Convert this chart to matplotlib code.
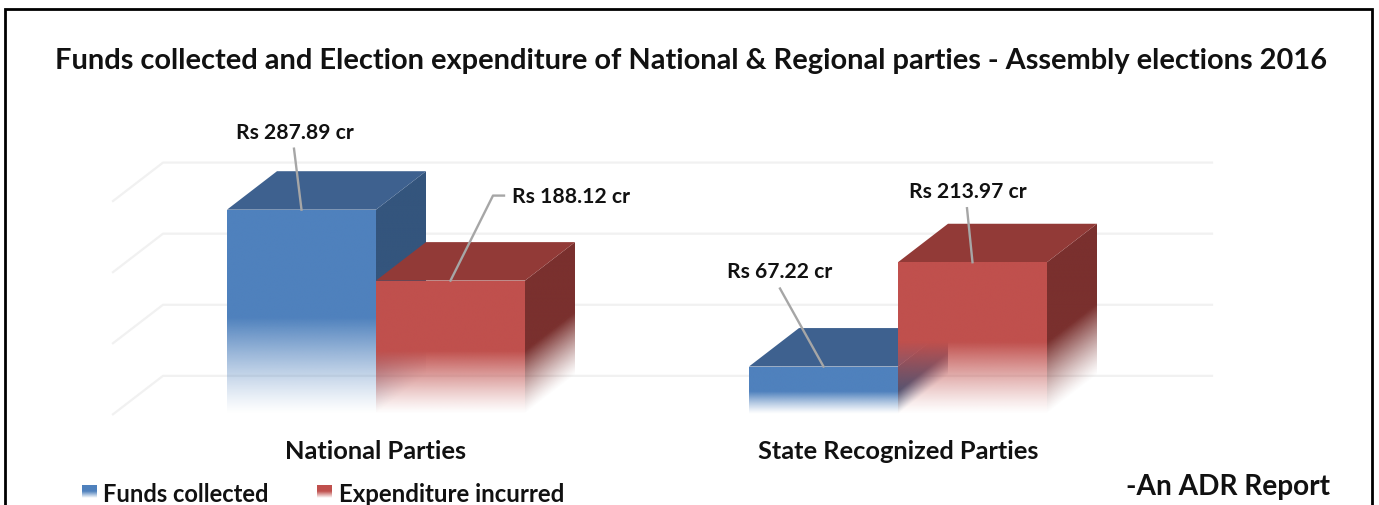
# Grafico de barras "3D" con degradado: fondos y gastos de los partidos
import numpy as np
import matplotlib
matplotlib.use("Agg")
import matplotlib.pyplot as plt
from matplotlib.lines import Line2D
from matplotlib.patches import Polygon
from matplotlib.transforms import Affine2D

# Datos
categorias = ["National Parties", "State Recognized Parties"]
fondos = [287.89, 67.22]
gastos = [188.12, 213.97]
etiquetas_fondos = ["Rs 287.89 cr", "Rs 67.22 cr"]
etiquetas_gastos = ["Rs 188.12 cr", "Rs 213.97 cr"]
rejilla = [0, 100, 200, 300]
series = ["Funds collected", "Expenditure incurred"]

# Tamano de la figura en pixeles
W, H = 1379, 506
plt.rcParams["font.family"] = ["Lato", "DejaVu Sans"]
plt.rcParams["font.weight"] = "bold"

# Escala: 1 categoria = 522 px, 100 unidades = 71.15 px
px_x = 522.0
px_y = 0.7115
ancho = 149 / px_x
fondo_x = 50 / px_x
fondo_y = 38.5 / px_y
x_izq, x_der = (113 - 376) / px_x, (1212 - 376) / px_x
y_sup = 300 + fondo_y

fig = plt.figure(figsize=(W / 100, H / 100), dpi=100)
fig.patch.set_facecolor("white")
ax = fig.add_axes([113 / W, 1 - 415.3 / H, (1212 - 113) / W, (415.3 - 163.6) / H])
ax.set_xlim(x_izq, x_der)
ax.set_ylim(0, y_sup)
for s in ax.spines.values():
    s.set_visible(False)
ax.set_yticks([])
ax.set_xticks([0, 1])
ax.set_xticklabels(categorias, fontsize=18.3, color="#111111", fontweight="bold")
ax.tick_params(axis="x", length=0, pad=18)
ax.patch.set_alpha(0)

# Rejilla de fondo
for g in rejilla:
    ax.plot([x_izq, x_izq + fondo_x, x_der], [g, g + fondo_y, g + fondo_y],
            color="#f1f1f1", lw=1.6, zorder=1, clip_on=False)


def alfa(altura, valor):
    # Opaco arriba, se desvanece hacia la base desde el 47% de la altura
    return np.clip(altura / (0.47 * valor), 0, 1) ** 1.2


def cara_degradada(xs, ys, color, valor, fondo_frac, z):
    # Dibuja un poligono con degradado de transparencia recortado a su forma
    x0, x1, y0, y1 = min(xs), max(xs), min(ys), max(ys)
    gx, gy = np.meshgrid(np.linspace(x0, x1, 240), np.linspace(y1, y0, 500))
    base = (gx - x0) / fondo_x * fondo_y if fondo_frac else 0 * gx
    rgba = np.zeros(gx.shape + (4,))
    rgba[..., :3] = matplotlib.colors.to_rgb(color)
    rgba[..., 3] = alfa(gy - base, valor)
    im = ax.imshow(rgba, extent=(x0, x1, y0, y1), aspect="auto", zorder=z,
                   interpolation="bilinear")
    poli = Polygon(np.column_stack([xs, ys]), transform=ax.transData)
    im.set_clip_path(poli)


def barra(x0, valor, frente, arriba, lado, z):
    x1 = x0 + ancho
    cara_degradada([x1, x1 + fondo_x, x1 + fondo_x, x1],
                   [0, fondo_y, valor + fondo_y, valor], lado, valor, True, z)
    ax.add_patch(Polygon([[x0, valor], [x1, valor], [x1 + fondo_x, valor + fondo_y],
                          [x0 + fondo_x, valor + fondo_y]],
                         facecolor=arriba, edgecolor="none", zorder=z + 0.1))
    cara_degradada([x0, x1, x1, x0], [0, 0, valor, valor], frente, valor, False, z + 0.2)


AZUL = ("#4f81bd", "#3e618f", "#34557d")
ROJO = ("#c0504d", "#923a37", "#7a302e")
for i in range(len(categorias)):
    barra(i - ancho, fondos[i], *AZUL, 2 + i * 2)
    barra(i, gastos[i], *ROJO, 3 + i * 2)
ax.set_xlim(x_izq, x_der)
ax.set_ylim(0, y_sup)

# Etiquetas con linea guia (desplazamientos en pixeles desde la barra)
guias = [[(0, 0), (-7.5, 61)], [(0, 0), (42.5, 85), (53.5, 85)],
         [(0, 0), (-43.5, 78)], [(0, 0), (-5.5, 54)]]
textos = [(-6.5, 78), (120.5, 85), (-43.5, 96), (-4.5, 71)]
anclas = [(-ancho / 2, fondos[0]), (ancho / 2, gastos[0]),
          (1 - ancho / 2, fondos[1]), (1 + ancho / 2, gastos[1])]
rotulos = [etiquetas_fondos[0], etiquetas_gastos[0], etiquetas_fondos[1], etiquetas_gastos[1]]
for ancla, guia, tx, rot in zip(anclas, guias, textos, rotulos):
    p = ax.transData.transform(ancla)
    tr = Affine2D().translate(p[0], p[1])
    fig.add_artist(Line2D([q[0] for q in guia], [q[1] for q in guia], color="#a6a6a6",
                          lw=1.7, transform=tr, zorder=20))
    ax.annotate(rot, xy=ancla, xytext=tx, textcoords="offset pixels", ha="center",
                va="center", fontsize=15.2, color="#111111", fontweight="bold", zorder=21)

# Titulo
fig.text(691 / W, 1 - 61 / H,
         "Funds collected and Election expenditure of National & Regional parties - Assembly elections 2016",
         ha="center", va="center", fontsize=20.87, fontweight="bold", color="#111111")

# Leyenda con muestras en degradado
for nombre, color, x_m, x_t, t_s in zip(series, [AZUL[0], ROJO[0]], [82, 317], [103, 339], [17.1, 17.3]):
    a = fig.add_axes([x_m / W, 1 - 499 / H, 15 / W, 13 / H])
    grad = np.zeros((40, 1, 4))
    grad[..., :3] = matplotlib.colors.to_rgb(color)
    grad[:, 0, 3] = np.clip(np.linspace(1.9, 0, 40), 0, 1)
    a.imshow(grad, aspect="auto", interpolation="bilinear")
    a.axis("off")
    fig.text(x_t / W, 1 - 495 / H, nombre, ha="left", va="center", fontsize=t_s,
             fontweight="bold", color="#111111")

fig.text(1126 / W, 1 - 487 / H, "-An ADR Report", ha="left", va="center", fontsize=20.2,
         fontweight="bold", color="#111111")

# Marco negro (sin borde inferior, la imagen esta cortada)
fig.add_artist(Line2D([5 / W, 5 / W, 1372 / W, 1372 / W],
                      [0, 1 - 10 / H, 1 - 10 / H, 0], color="black", lw=2,
                      transform=fig.transFigure, solid_joinstyle="miter"))

fig.savefig("out.png", dpi=100)
